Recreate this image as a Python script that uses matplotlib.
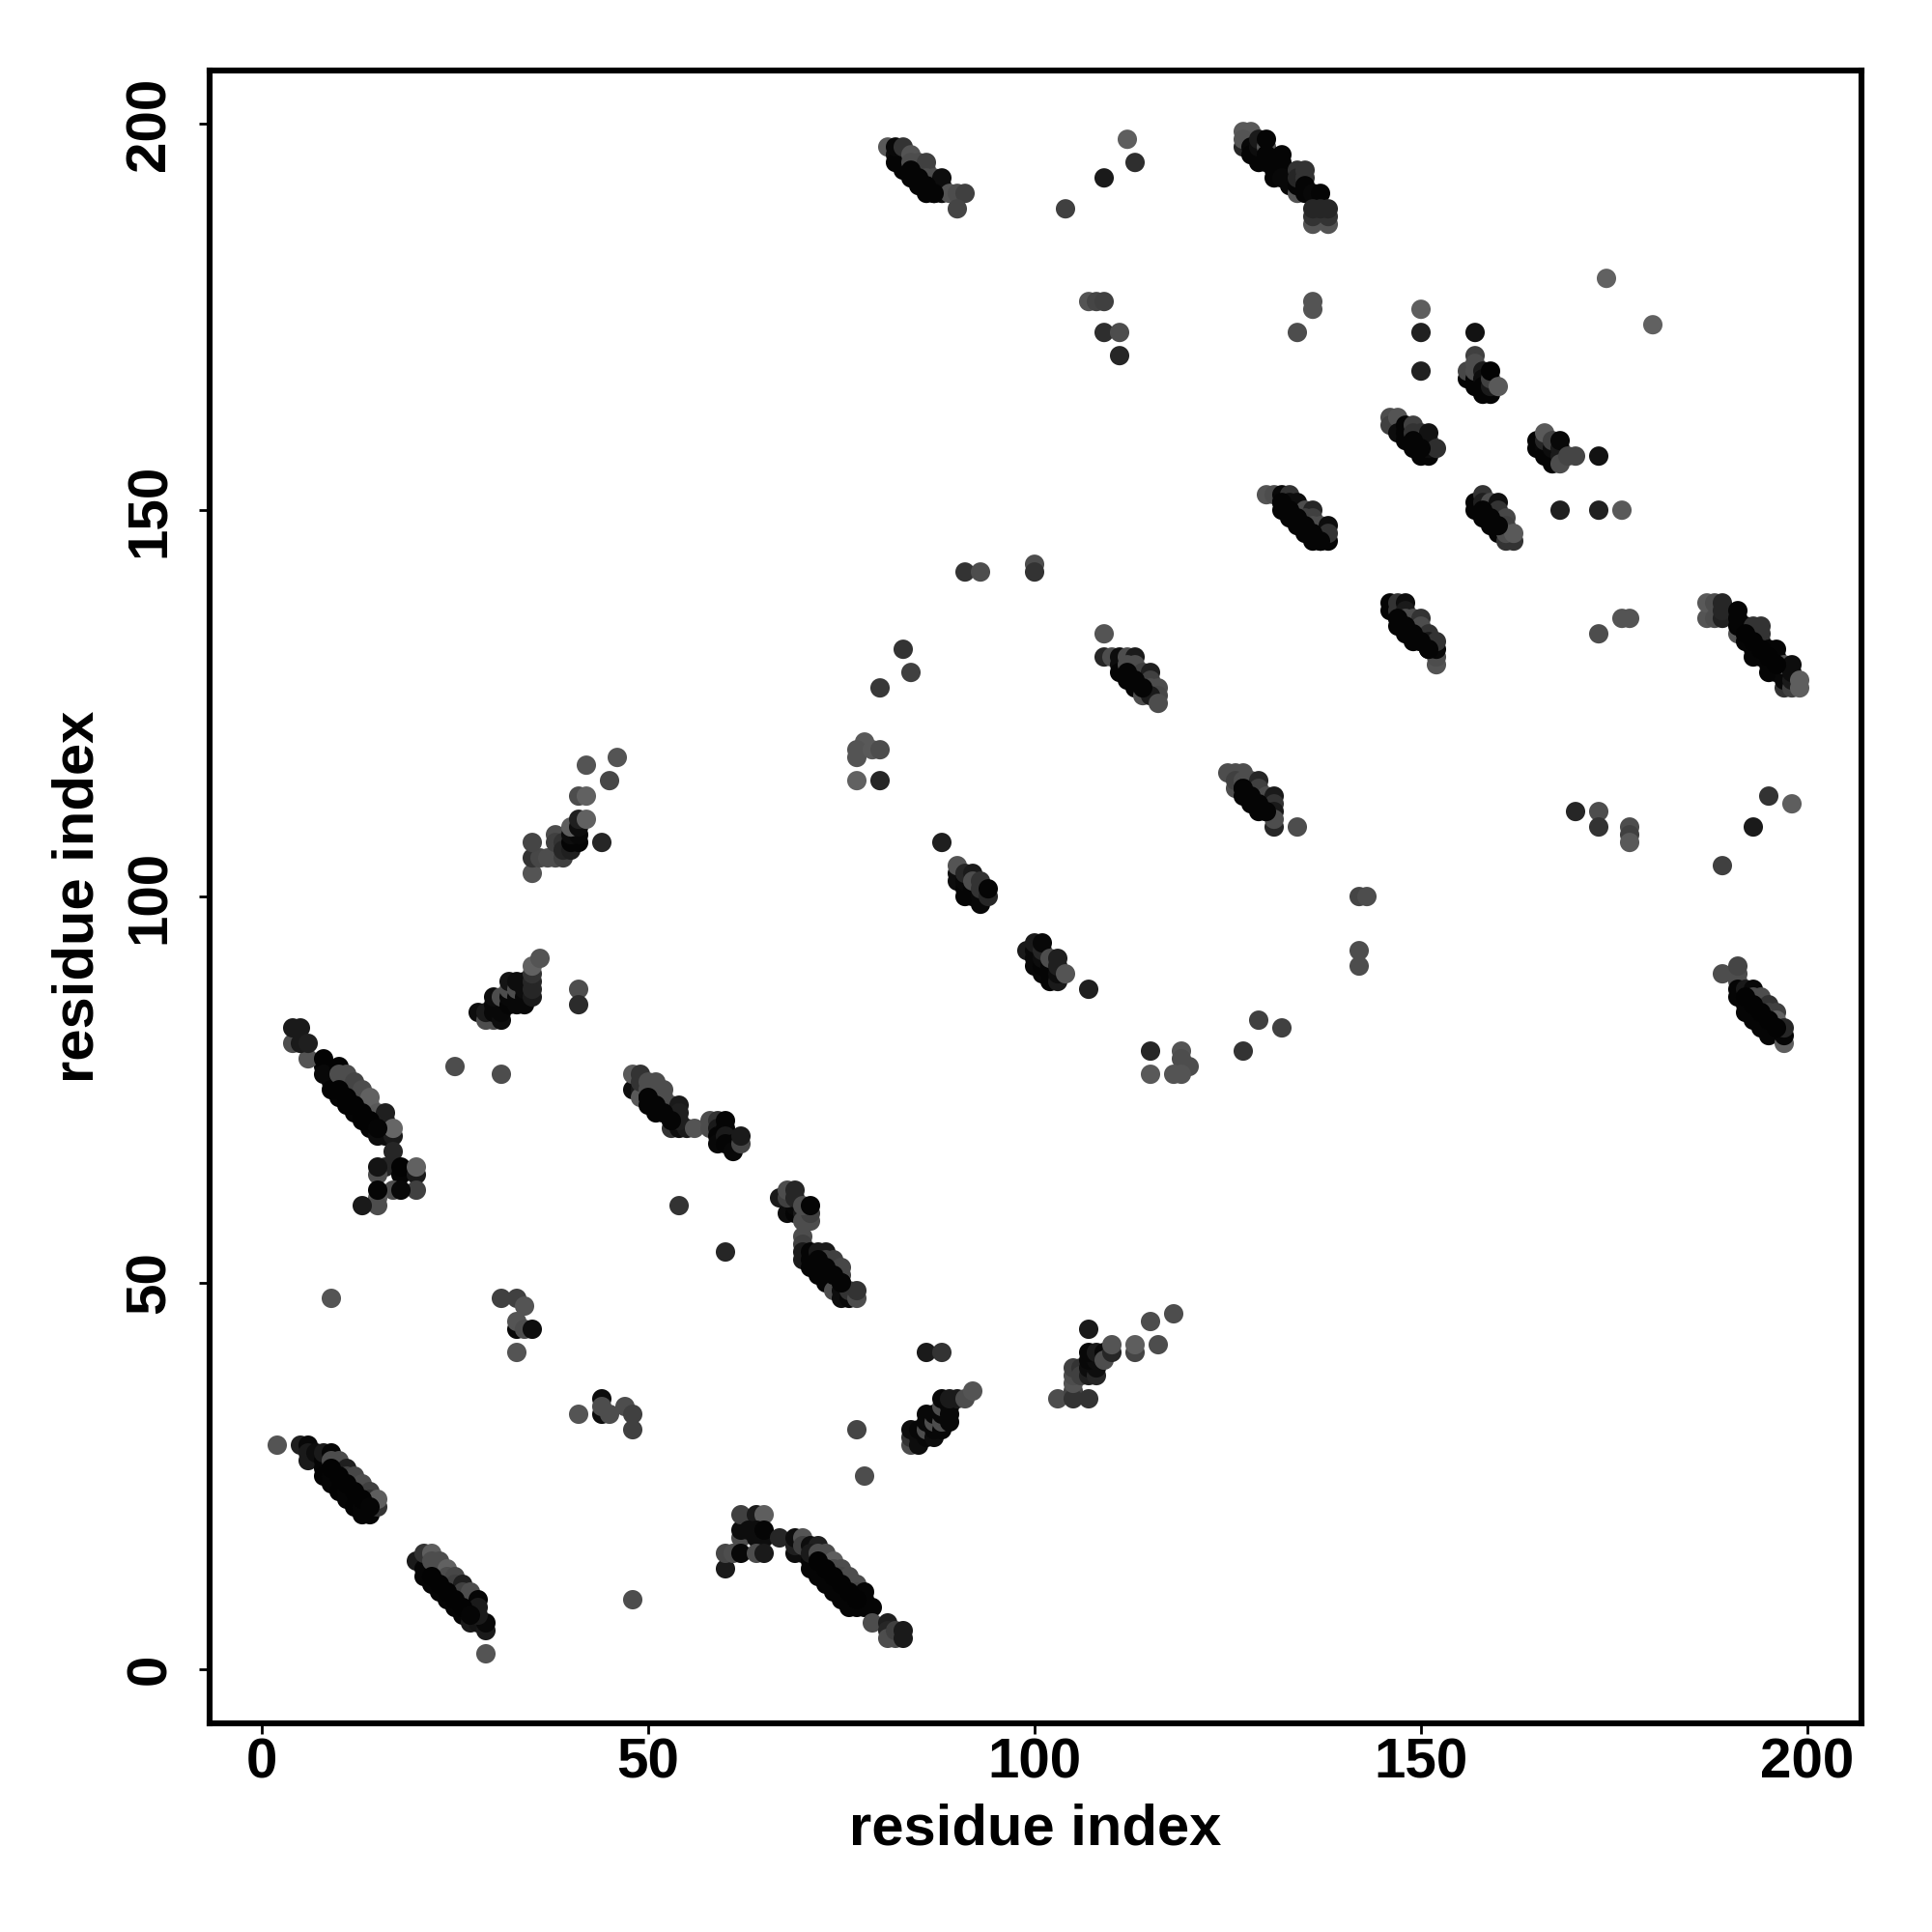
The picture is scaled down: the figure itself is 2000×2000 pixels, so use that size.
import matplotlib
matplotlib.use('Agg')
from matplotlib import pyplot as plt

# contacts: (residue x, residue y, grey level), drawn in order
band_a = [(8,78,.02),(9,77,.02),(9,76,.02),(10,75,.02),(10,74,.02),(11,74,.02),(12,73,.02),(12,72,.02),(13,72,.02),(14,71,.02),(14,70,.02),(15,70,.02),(16,70,.05),
    (4,81,.3),(6,79,.33),(4,83,.1),(5,83,.1),(5,81,.1),(6,81,.12),(8,79,.01),(8,77,.03),(10,78,.01),(9,75,.01),(11,73,.01),(13,71,.01),(15,69,.05),(16,69,.05),(17,69,.1),
    (10,77,.3),(11,77,.3),(11,76,.3),(12,76,.27),(12,75,.27),(13,75,.3),(13,74,.3),(14,74,.38),(14,73,.38),(15,72,.35),(16,72,.12),(16,71,.12),(17,70,.4),
    (17,67,.15),(16,65,.15),(15,64,.3),(15,65,.08),(18,64,.02),(18,65,.01),(20,64,.1),(20,65,.38),(20,62,.25),(17,62,.3),(18,62,.03),(15,61,.35),(15,60,.3),(15,62,.02),(13,60,.1)]
band_a2 = [(2,29,.33),(5,29,.12),(6,29,.03),(6,28,.1),(6,27,.1),(7,28,.05),(8,27,.02),(8,26,.02),(8,25,.01),(9,25,.02),(9,24,.02),(10,24,.02),(10,23,.01),(11,23,.02),(11,22,.02),(12,22,.02),(12,21,.01),(13,21,.02),(13,20,.02),(14,20,.02),(14,21,.03),
    (8,28,.1),(9,28,.02),(9,27,.3),(10,27,.3),(10,26,.3),(11,26,.12),(11,25,.25),(12,25,.28),(12,24,.28),(13,24,.3),(13,23,.3),(14,23,.25),(14,22,.2),(15,21,.2),(15,22,.37)]
band_b = [(20,14,.1),(21,13,.02),(21,12,.02),(22,13,.02),(22,12,.02),(22,11,.02),(23,11,.02),(23,10,.02),(24,10,.02),(24,9,.02),(25,9,.02),(25,8,.02),(26,8,.02),(26,7,.02),
    (21,15,.2),(22,15,.37),(22,14,.3),(23,14,.3),(23,13,.3),(24,13,.38),(24,12,.3),(25,12,.28),(25,11,.25),(26,11,.12),(26,10,.25),(27,10,.3),(27,9,.3),(28,9,.02),(28,8,.1),(27,7,.05),(27,6,.1),(28,6,.08),(29,5,.1),(29,6,.03),(28,7,.1),(29,2,.33)]
band_c = [(28,85,.05),(29,84,.3),(30,84,.3),(29,85,.1),(30,86,.03),(30,85,.03),(31,84,.05),(31,85,.03),(31,86,.03),(30,87,.05),(31,87,.3),(32,86,.02),(32,87,.03),(32,88,.3),(32,89,.08),(33,86,.03),(33,87,.03),(33,88,.3),(33,89,.05),(34,86,.03),(34,87,.03),(34,88,.05),(34,89,.05),(35,87,.1),(35,88,.15),(35,89,.15),(35,90,.2),(35,91,.38),(36,92,.33)]
band_d = [(48,75,.05),(49,75,.1),(49,74,.35),(48,77,.35),(49,77,.2),(49,76,.2),(50,74,.02),(50,73,.02),(51,73,.02),(51,72,.02),(52,72,.02),(53,71,.03),(53,70,.2),(54,70,.05),(55,70,.1),
    (50,75,.3),(50,76,.3),(51,75,.3),(51,76,.3),(52,75,.3),(52,74,.3),(53,73,.3),(53,72,.25),(54,73,.1),(54,72,.12),(54,71,.12),(56,70,.33),
    (58,71,.3),(58,70,.3),(59,71,.2),(59,70,.1),(59,69,.02),(59,68,.03),(60,71,.02),(60,70,.02),(60,69,.1),(60,68,.02),(61,68,.02),(61,67,.03),(62,68,.27),(62,69,.1)]
band_e = [(67,61,.1),(68,59,.05),(69,59,.02),(69,60,.03),(68,61,.25),(68,62,.3),(69,62,.15),(69,61,.15),(70,59,.1),(70,58,.3),(71,58,.3),(71,59,.25),(70,60,.3),(71,60,.02),
    (70,56,.3),(70,55,.25),(70,54,.1),(70,53,.1),(71,53,.02),(71,54,.02),(71,52,.02),(72,52,.02),(72,51,.02),(73,51,.02),(73,50,.02),(74,50,.02),(72,54,.1),(73,54,.1),(73,53,.25),(74,53,.25),(74,52,.25),(75,52,.28),(75,51,.28),(74,49,.3),(75,50,.02),(75,49,.05),(75,48,.05),(76,48,.03),(76,49,.2),(77,48,.3),(77,49,.2)]
band_f = [(60,13,.1),(60,15,.28),(61,15,.3),(62,17,.3),(62,18,.05),(62,20,.25),(62,15,.03),(64,20,.1),(65,20,.37),(63,18,.05),(64,17,.05),(65,17,.05),(64,18,.05),(65,18,.02),(64,15,.3),(65,15,.1),(67,17,.15),
    (69,15,.05),(70,15,.05),(69,16,.12),(69,17,.05),(70,17,.33),(70,16,.25),(71,13,.02),(71,14,.02),(72,13,.02),(72,12,.02),(73,12,.02),(73,11,.02),(74,11,.02),(74,10,.02),(75,10,.02),(75,9,.02),(76,9,.02),(76,8,.02),(77,9,.02),(77,8,.02),
    (71,16,.05),(72,16,.12),(71,15,.1),(72,15,.3),(73,15,.3),(73,14,.3),(74,14,.37),(74,13,.3),(75,13,.3),(75,12,.28),(76,12,.3),(76,11,.3),(77,11,.3),(77,10,.28),(78,10,.02),(78,9,.02),(78,8,.02),(79,8,.02),
    (79,6,.3),(81,6,.12),(81,5,.15),(81,4,.3),(82,4,.3),(82,5,.25),(83,4,.1),(83,5,.1)]
band_g = [(84,29,.3),(84,30,.2),(84,31,.05),(85,29,.05),(85,30,.05),(85,31,.03),(86,30,.03),(86,31,.3),(86,32,.03),(86,33,.03),(87,30,.05),(87,31,.03),(87,32,.3),(87,33,.03),(88,31,.03),(88,32,.3),(88,33,.03),(88,34,.3),(88,35,.03),(89,32,.03),(89,33,.03),(89,34,.03),(89,35,.1),(90,35,.1),(91,35,.3),(92,36,.33)]
band_h = [(103,35,.3),(105,36,.27),(105,35,.2),(107,35,.2),(105,37,.33),(105,38,.3),(105,39,.25),(106,39,.2),(106,38,.25),(107,38,.12),(107,39,.05),(108,38,.15),(108,39,.05),(107,40,.03),(108,40,.05),(107,41,.03),(108,41,.1),(109,41,.03),(109,40,.3),(110,41,.15),(110,42,.33),(113,41,.27),(113,42,.37),(116,42,.3),(115,45,.3),(118,46,.3),(107,44,.1)]
band_i = [(35,103,.33),(35,105,.2),(36,105,.28),(37,105,.3),(38,105,.3),(39,105,.25),(35,107,.27),(38,108,.3),(38,107,.25),(39,107,.2),(39,106,.15),(40,106,.12),(40,107,.02),(41,107,.02),(40,108,.05),(41,108,.03),(40,109,.37),(41,109,.05),(41,110,.12),(42,110,.38),(41,113,.3),(42,113,.38),(42,117,.33),(45,115,.28),(46,118,.33),(44,107,.15)]
band_j = [(81,197,.35),(82,196,.05),(82,195,.02),(83,195,.02),(83,194,.02),(84,194,.02),(84,193,.02),(85,193,.02),(85,192,.02),(86,192,.02),(86,191,.02),(87,191,.02),(88,191,.05),(82,197,.03),(83,197,.2),(84,196,.33),(84,195,.3),(85,195,.3),(85,194,.3),(86,195,.25),(86,194,.25),(86,193,.3),(87,193,.3),(87,192,.25),(88,193,.05),(88,192,.05),(89,191,.33),(90,191,.3),(91,191,.25),(90,189,.27)]
band_k = [(109,131,.15),(110,131,.3),(111,130,.05),(111,131,.05),(111,129,.02),(112,129,.02),(112,128,.02),(113,128,.02),(113,127,.02),(114,127,.05),(114,126,.3),(112,131,.3),(113,131,.1),(112,130,.3),(113,130,.3),(113,129,.3),(114,129,.25),(114,128,.25),(115,129,.12),(115,128,.25),(115,127,.3),(116,127,.3),(116,126,.28),(115,126,.1),(116,125,.3)]
band_l = [(125,116,.3),(126,116,.3),(127,116,.3),(126,114,.3),(126,115,.25),(127,115,.3),(127,114,.05),(127,113,.02),(128,113,.02),(128,112,.02),(129,112,.02),(129,111,.02),(130,111,.02),(128,115,.3),(128,114,.3),(129,115,.15),(129,114,.25),(129,113,.25),(130,113,.3),(130,112,.25),(131,113,.1),(131,112,.2),(131,111,.1),(131,109,.15),(131,110,.3)]
band_m = [(90,102,.05),(90,103,.05),(90,104,.33),(91,100,.02),(91,101,.02),(91,102,.03),(91,103,.15),(92,100,.02),(92,101,.02),(92,103,.1),(92,102,.3),(93,99,.03),(93,100,.03),(93,101,.2),(93,102,.2),(94,100,.15),(94,101,.02)]
band_n = [(99,93,.1),(100,91,.03),(100,92,.03),(100,93,.03),(100,94,.1),(101,90,.03),(101,91,.02),(101,92,.05),(101,93,.15),(101,94,.03),(102,89,.02),(102,90,.02),(102,91,.02),(102,92,.3),(103,89,.1),(103,90,.05),(103,91,.12),(103,92,.12),(104,90,.33)]
band_o = [(127,199,.35),(128,199,.35),(127,197,.15),(127,198,.33),(128,197,.03),(128,196,.02),(129,196,.02),(129,195,.02),(129,197,.05),(129,198,.1),(130,197,.33),(130,198,.02),(130,195,.02),(130,196,.02),(131,194,.02),(131,193,.02),(131,195,.02),(132,196,.02),(132,195,.02),(132,194,.02),(132,193,.03),(133,193,.03),(133,192,.03),(134,191,.33),(134,192,.02),(134,194,.2),(134,193,.15),(135,194,.2),(135,193,.2),(135,192,.02),(135,191,.02),(136,191,.03),(137,191,.02),
    (136,187,.33),(138,187,.33),(136,188,.2),(138,188,.2),(136,189,.15),(138,189,.15),(137,189,.15)]
band_p = [(146,162,.3),(146,161,.25),(147,162,.33),(147,160,.05),(148,159,.02),(148,160,.02),(148,161,.02),(149,158,.02),(149,159,.02),(150,157,.02),(150,158,.02),(149,161,.25),(149,160,.2),(150,160,.2),(150,159,.25),(151,157,.02),(151,158,.05),(151,159,.3),(151,160,.07),(152,158,.18)]
band_q = [(156,167,.02),(156,168,.28),(157,167,.02),(157,166,.02),(157,173,.07),(157,170,.25),(157,169,.3),(157,168,.3),(158,168,.1),(158,167,.05),(158,166,.02),(158,165,.02),(159,165,.02),(159,166,.1),(159,167,.25),(159,168,.01),(160,166,.35)]
band_r = [(165,158,.02),(165,159,.02),(166,158,.03),(166,157,.02),(166,159,.15),(166,160,.35),(167,157,.02),(167,156,.02),(167,158,.05),(167,159,.25),(168,158,.1),(168,157,.1),(168,159,.03),(168,156,.3),(169,157,.27),(170,157,.27),(173,157,.07)]
band_s = [(130,152,.33),(131,152,.3),(132,152,.03),(132,151,.02),(132,150,.02),(133,150,.02),(133,149,.02),(134,149,.02),(134,148,.02),(135,148,.02),(135,147,.02),(136,147,.02),(136,146,.02),(137,146,.02),(138,146,.02),(133,152,.2),(133,151,.05),(134,151,.05),(135,150,.3),(136,150,.15),(135,149,.25),(136,149,.25),(136,148,.3),(137,148,.3),(138,148,.05),(138,147,.2)]
band_t = [(157,150,.02),(157,151,.02),(158,149,.02),(158,150,.02),(159,148,.02),(159,149,.02),(160,147,.02),(160,148,.02),(158,152,.2),(158,151,.12),(159,151,.3),(159,150,.25),(160,151,.06),(160,150,.2),(160,149,.2),(161,149,.28),(161,148,.25),(161,146,.2),(162,146,.2),(161,147,.3),(162,147,.35)]
band_u = [(146,137,.02),(146,138,.02),(147,136,.02),(147,135,.02),(148,135,.02),(148,134,.02),(149,134,.02),(149,133,.02),(150,133,.02),(151,132,.02),(147,138,.2),(147,137,.2),(148,138,.05),(148,137,.1),(148,136,.3),(149,136,.3),(149,135,.3),(150,136,.2),(150,135,.3),(150,134,.3),(151,134,.2),(151,133,.1),(152,130,.33),(152,131,.3),(152,132,.03),(152,133,.2)]
band_v = [(187,136,.33),(187,138,.35),(188,136,.3),(188,138,.3),(189,136,.13),(189,138,.15),(189,137,.15),(191,134,.33),(191,135,.02),(191,136,.02),(191,137,.02),(192,133,.02),(192,134,.02),(192,135,.02),(193,132,.02),(193,133,.02),(193,134,.02),(193,131,.02),(194,131,.02),(194,132,.02),(194,133,.02),(193,135,.2),(194,135,.2),(194,134,.2),(195,132,.02),(195,131,.02),(195,130,.02),(195,129,.02),(196,132,.02),(196,131,.02),(196,130,.02),(196,129,.02),(197,127,.2),(197,128,.03),(197,129,.03),(197,130,.33),(198,127,.25),(198,128,.1),(198,130,.05),(198,129,.05),(199,127,.37),(199,128,.37)]
band_w = [(189,90,.3),(191,89,.3),(191,90,.3),(191,91,.27),(191,88,.02),(191,87,.02),(192,87,.02),(192,86,.02),(192,85,.02),(193,85,.02),(193,84,.02),(194,84,.02),(194,83,.02),(195,83,.02),(195,82,.02),(192,88,.1),(193,88,.03),(193,87,.3),(194,87,.3),(194,86,.3),(195,86,.2),(195,85,.25),(196,85,.25),(196,84,.38),(196,83,.02),(197,81,.37),(197,82,.02),(197,83,.15)]
singles = [(9,48,.33),(25,78,.3),(31,77,.3),(31,48,.25),(33,48,.25),(34,47,.33),(33,44,.03),(33,45,.33),(34,44,.3),(35,44,.05),(33,41,.33),(41,88,.3),(41,86,.17),
    (41,33,.33),(44,35,.05),(44,33,.05),(44,34,.3),(45,33,.3),(47,34,.3),(48,33,.25),(48,31,.25),(48,9,.3),(54,60,.2),(60,54,.15),(86,41,.1),(88,41,.2),(77,31,.27),(78,25,.3),
    (83,132,.2),(84,129,.25),(80,127,.22),(78,120,.35),(77,119,.33),(77,118,.33),(79,119,.35),(80,119,.3),(77,115,.38),(80,115,.15),(109,134,.33),(134,109,.3),(88,107,.12),(107,88,.12),
    (129,84,.25),(132,83,.25),(127,80,.2),(115,80,.15),(119,80,.33),(119,79,.3),(120,78,.3),(115,77,.35),(118,77,.33),(119,77,.33),
    (142,100,.27),(143,100,.3),(142,93,.3),(142,91,.3),(91,142,.2),(93,142,.3),(100,143,.3),(100,142,.2),(170,111,.15),(173,111,.3),(173,109,.2),(177,109,.3),(177,108,.25),(177,107,.35),
    (195,113,.2),(198,112,.37),(193,109,.1),(189,104,.25),(104,189,.25),(109,193,.1),(113,195,.18),(112,198,.37),(107,177,.33),(108,177,.27),(109,177,.25),(109,173,.18),(111,173,.3),(111,170,.15),
    (136,177,.33),(136,176,.33),(134,173,.3),(150,176,.37),(150,173,.13),(150,168,.13),(174,180,.38),(180,174,.38),(168,150,.12),(173,150,.13),(176,150,.35),(173,134,.3),(176,136,.33),(177,136,.33)]
# near-black contacts that sit on top of the grey strips in the long bands
core = [(10,75,.01),(11,74,.01),(12,73,.01),(13,72,.01),(14,71,.01),(15,70,.02),
    (9,26,.01),(10,25,.01),(11,24,.01),(12,23,.01),(13,22,.01),(14,21,.02),
    (22,12,.01),(23,11,.01),(24,10,.01),(25,9,.01),(26,8,.01),(27,7,.02),
    (50,74,.02),(51,73,.02),(52,72,.02),(53,71,.02),(72,53,.02),(73,52,.02),(74,51,.02),(75,50,.02),
    (72,14,.01),(73,13,.01),(74,12,.01),(75,11,.01),(76,10,.01),(77,9,.01),
    (84,194,.02),(85,193,.02),(86,192,.02),(87,191,.02),(112,129,.02),(113,128,.02),(114,127,.02),
    (127,114,.02),(128,113,.02),(129,112,.02),(130,111,.02),(149,159,.02),(150,158,.02),
    (132,151,.02),(133,150,.02),(134,149,.02),(135,148,.02),(136,147,.02),(137,146,.02),
    (158,150,.02),(159,149,.02),(160,148,.02),(147,136,.02),(148,135,.02),(149,134,.02),(150,133,.02),(151,132,.02),
    (192,134,.01),(193,133,.01),(194,132,.01),(195,131,.01),(196,130,.01),
    (192,87,.01),(193,86,.01),(194,85,.01),(195,84,.01),(196,83,.01)]

clusters = [band_a, band_a2, band_b, band_c, band_d, band_e, band_f, band_g, band_h, band_i, band_j, band_k, band_l,
            band_m, band_n, band_o, band_p, band_q, band_r, band_s, band_t, band_u, band_v, band_w, singles, core]
tick_values = [0, 50, 100, 150, 200]

plt.rcParams['font.family'] = ['Liberation Sans', 'DejaVu Sans']
plt.rcParams['font.weight'] = 'bold'

fig = plt.figure(figsize=(10, 10), dpi=200)
ax = fig.add_axes([0.1085, 0.108, 0.855, 0.8555])

for c in clusters:
    x = [p[0] for p in c]
    y = [p[1] for p in c]
    col = [str(p[2]) for p in c]
    ax.scatter(x, y, s=52, c=col, linewidths=0, zorder=3)

ax.set_xlim(-6.75, 207)
ax.set_ylim(-7, 206.9)
ax.set_xticks(tick_values)
ax.set_yticks(tick_values)
ax.tick_params(axis='both', length=4, width=1, labelsize=21, pad=1.3)
ax.tick_params(axis='y', labelrotation=90, pad=8.3)
for lab in ax.get_yticklabels():
    lab.set_va('center')
for s in ax.spines.values():
    s.set_linewidth(2.2)

ax.set_xlabel('residue index', fontsize=21.5, fontweight='bold', va='center')
ax.set_ylabel('residue index', fontsize=21.5, fontweight='bold', va='center')
ax.xaxis.set_label_coords(0.5, -0.0645)
ax.yaxis.set_label_coords(-0.0795, 0.5)

fig.savefig('out.png', dpi=200)
